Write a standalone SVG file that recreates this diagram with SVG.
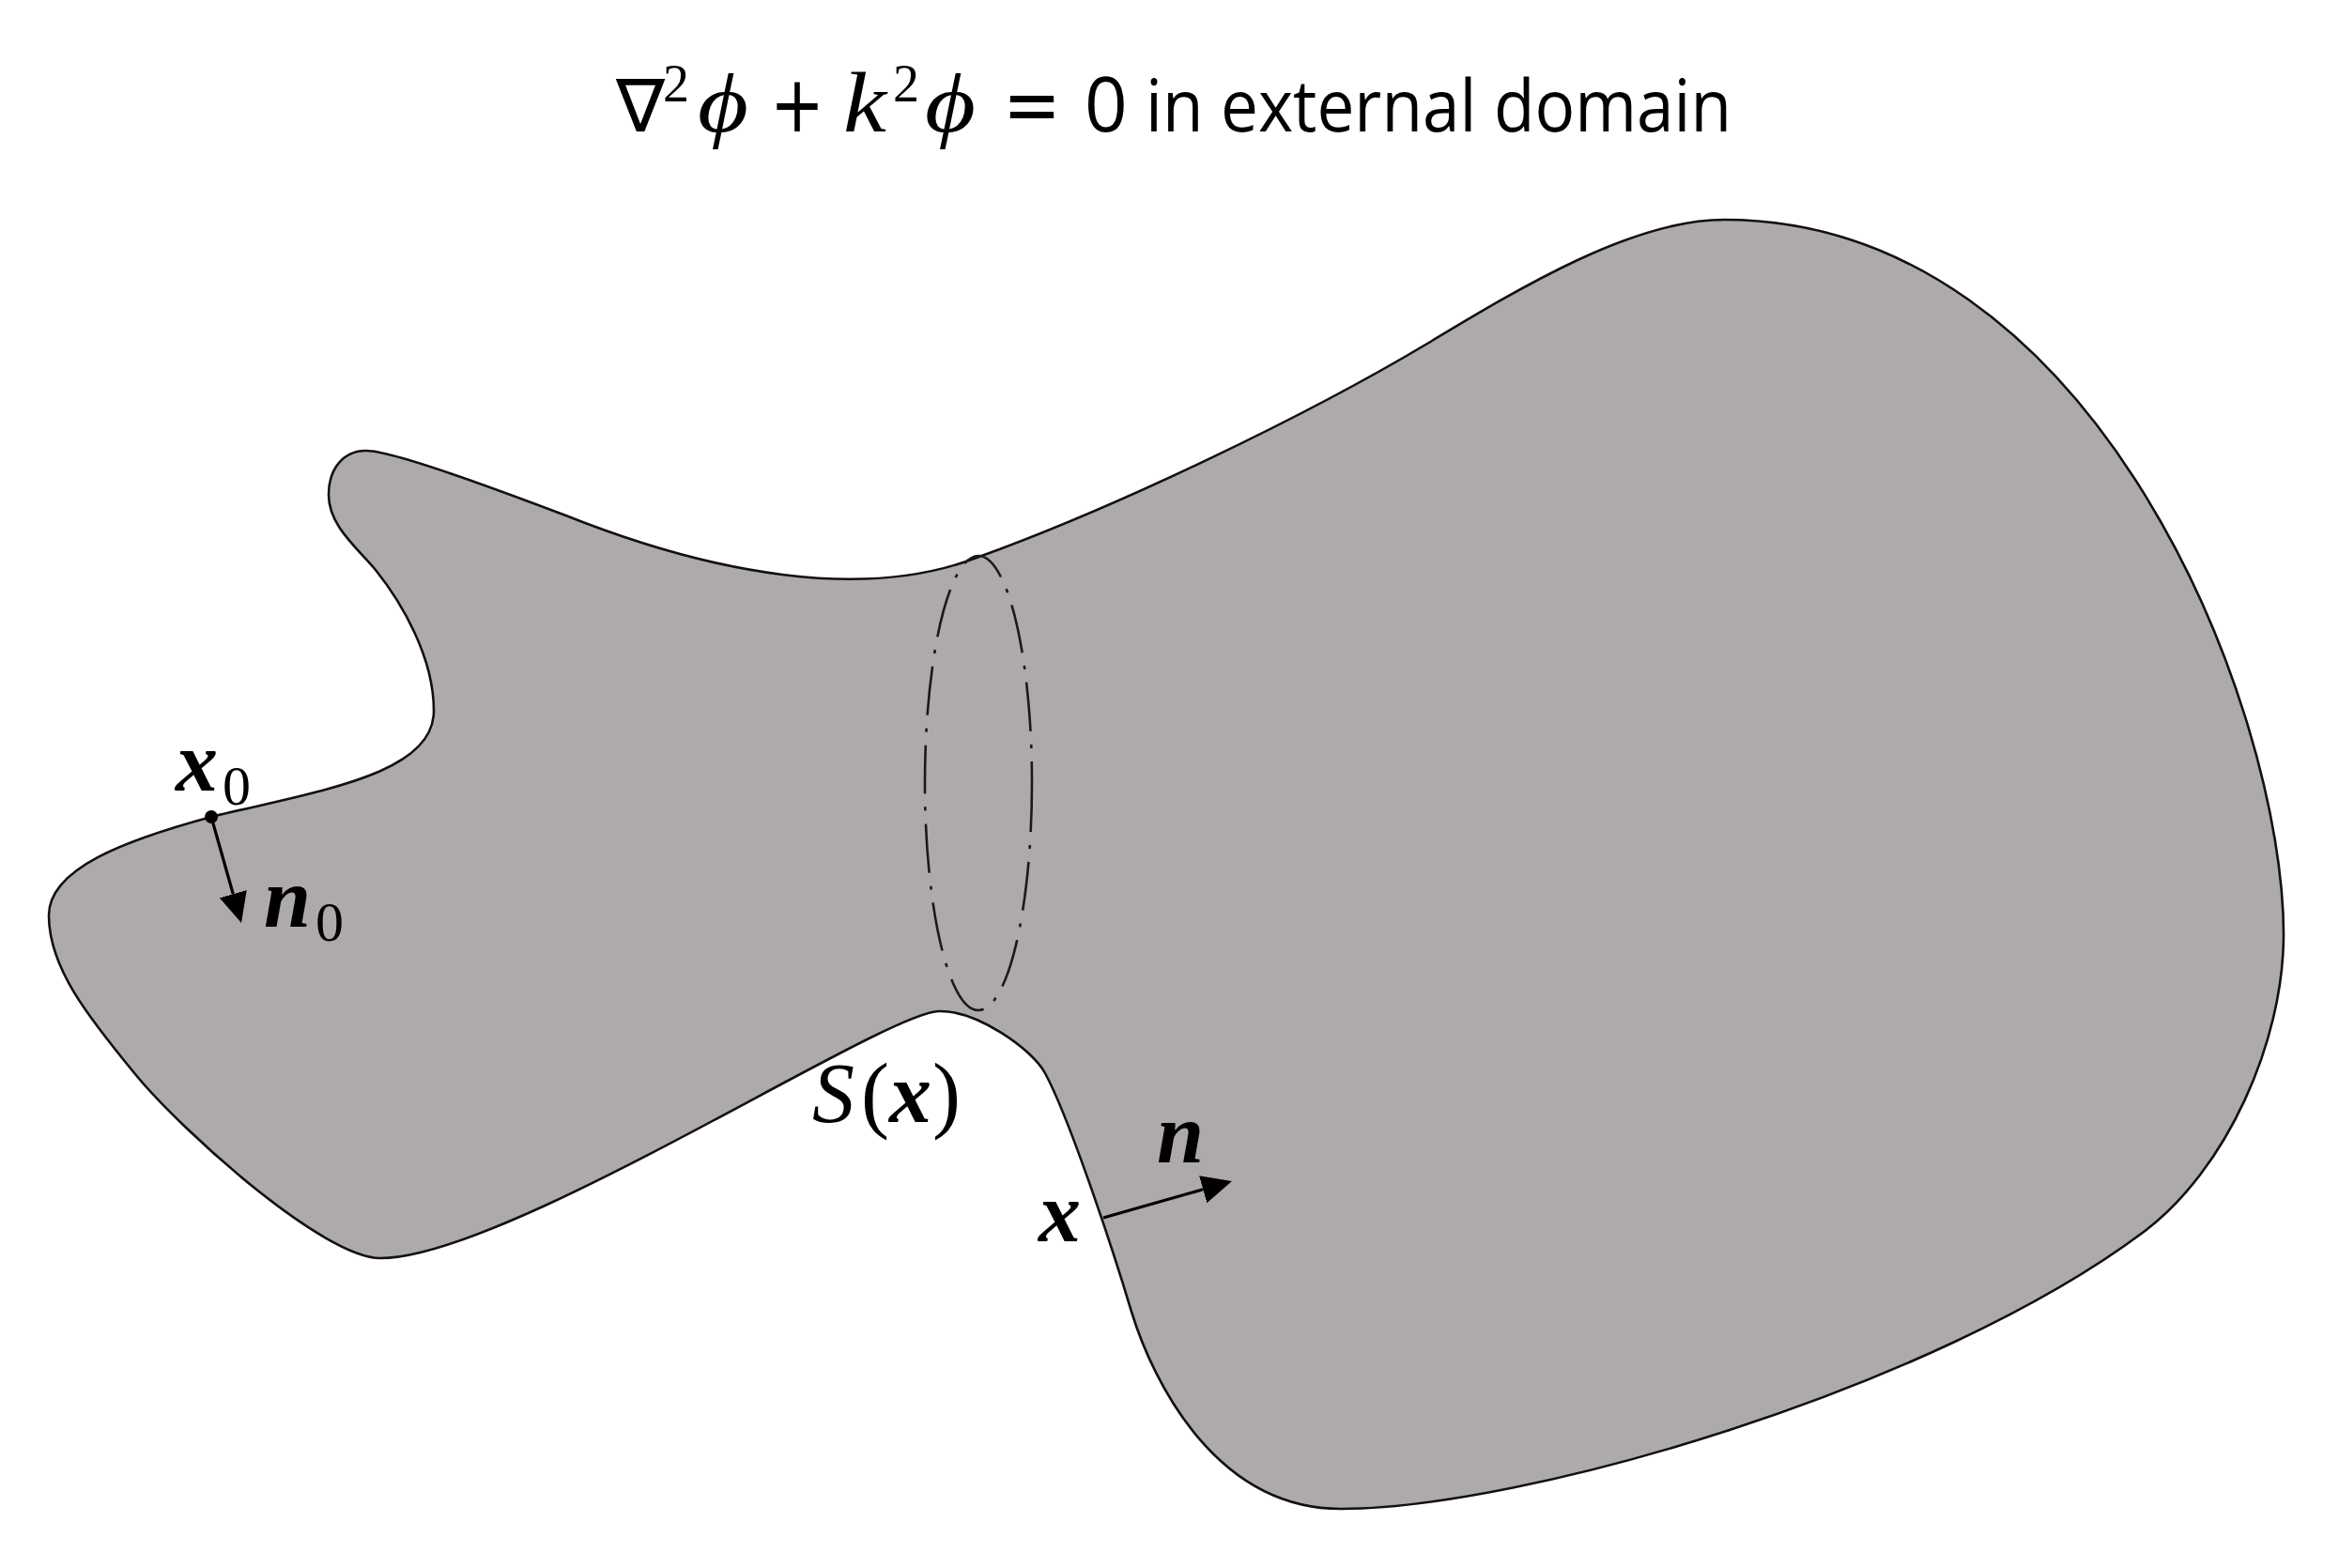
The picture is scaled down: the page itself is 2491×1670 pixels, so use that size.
<svg xmlns="http://www.w3.org/2000/svg" width="2491" height="1670" viewBox="0 0 2491 1670">
<style>
.body{fill:#aeaaa9;stroke:#111;stroke-width:2.6;stroke-linejoin:round}
.section{fill:none;stroke:#1a1a1a;stroke-width:2.6;stroke-dasharray:52 14 4 14}
.arrow{stroke:#000;stroke-width:3.2;fill:none}
.sans{font-family:"Open Sans","Noto Sans","Liberation Sans",sans-serif;fill:#000}
.math{font-family:"Liberation Serif","DejaVu Serif",serif;fill:#000}
.sym{font-family:"DejaVu Sans","Liberation Sans",sans-serif;fill:#000}
.bi{font-style:italic;font-weight:bold}
.it{font-style:italic}
</style>
<defs>
<marker id="head" markerUnits="userSpaceOnUse" viewBox="0 0 32 30" refX="0" refY="15" markerWidth="32" markerHeight="30" orient="auto">
<path d="M0,0 L32,15 L0,30 Z" fill="#000"/>
</marker>
</defs>
<rect width="2491" height="1670" fill="#fff"/>
<g id="title">
<text class="sym" x="656" y="140" font-size="78">∇</text>
<text class="math" x="706" y="108" font-size="56">2</text>
<text class="math it" x="743" y="140" font-size="88" textLength="54" lengthAdjust="spacingAndGlyphs">ϕ</text>
<text class="sym" x="820" y="140" font-size="84" textLength="58" lengthAdjust="spacingAndGlyphs">+</text>
<text class="math it" x="898" y="140" font-size="92" textLength="46" lengthAdjust="spacingAndGlyphs">k</text>
<text class="math" x="951" y="108" font-size="56">2</text>
<text class="math it" x="985" y="140" font-size="88" textLength="54" lengthAdjust="spacingAndGlyphs">ϕ</text>
<text class="sym" x="1068" y="140" font-size="84" textLength="62" lengthAdjust="spacingAndGlyphs">=</text>
<text class="sans" x="1155" y="140" font-size="80">0</text>
<text class="sans" x="1220" y="140" font-size="76" textLength="624" lengthAdjust="spacingAndGlyphs">in external domain</text>
</g>
<g id="body">
<path class="body" d="M52,975 C52,925 133,895 225,870 C340,842 462,825 462,757 C462,700 428,642 400,607 C381,584 350,560 350,527 C350,500 365,480 390,480 C420,480 544,527 600,548 C760,612 920,640 1040,594 C1190,540 1391,443 1520,366 C1623,304 1740,234 1836,234 C2233,234 2432,756 2432,995 C2432,1110 2371,1246 2283,1312 C2059,1480 1620,1607 1428,1607 C1295,1607 1228,1472 1205,1397 C1182,1320 1137,1187 1113,1143 C1099,1117 1040,1076 1000,1077 C940,1078 540,1340 405,1340 C345,1340 195,1206 144,1144 C93,1082 52,1030 52,975 Z"/>
</g>
<g id="cross-section">
<ellipse class="section" cx="1042" cy="834" rx="57" ry="242"/>
</g>
<g id="connectors">
<line class="arrow" x1="225" y1="870" x2="248.3" y2="952.2" marker-end="url(#head)"/>
<line class="arrow" x1="1175" y1="1297" x2="1281.2" y2="1266.8" marker-end="url(#head)"/>
</g>
<g id="point-x0">
<circle cx="225" cy="870" r="7" fill="#000"/>
<text class="math bi" x="187" y="842" font-size="90">x</text>
<text class="math" x="237" y="857" font-size="60">0</text>
</g>
<g id="normal-n0">
<text class="math bi" x="281" y="987" font-size="90">n</text>
<text class="math" x="336" y="1002" font-size="60">0</text>
</g>
<g id="surface-label">
<text class="math it" x="865" y="1195" font-size="90">S</text>
<text class="math" x="917" y="1195" font-size="90">(</text>
<text class="math bi" x="947" y="1195" font-size="90">x</text>
<text class="math" x="993" y="1195" font-size="90">)</text>
</g>
<g id="point-x">
<text class="math bi" x="1106" y="1322" font-size="90">x</text>
</g>
<g id="normal-n">
<text class="math bi" x="1232" y="1238" font-size="90">n</text>
</g>
</svg>
